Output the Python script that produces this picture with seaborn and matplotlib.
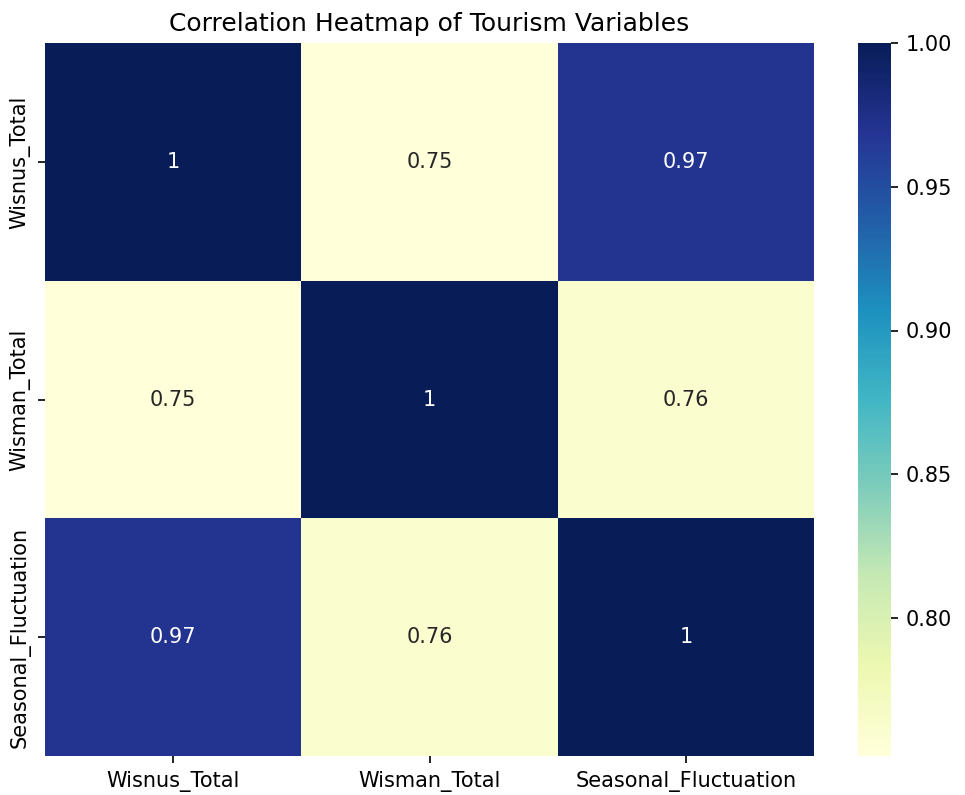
import numpy as np
import pandas as pd
import matplotlib
matplotlib.use("Agg")
import matplotlib.pyplot as plt
import seaborn as sns

# Correlation matrix of the tourism variables
variables = ["Wisnus_Total", "Wisman_Total", "Seasonal_Fluctuation"]
row_wisnus = [1.0, 0.752, 0.97]
row_wisman = [0.752, 1.0, 0.761]
row_seasonal = [0.97, 0.761, 1.0]

corr = pd.DataFrame([row_wisnus, row_wisman, row_seasonal],
                    index=variables, columns=variables)

W, H, DPI = 965, 795, 150
fig = plt.figure(figsize=(W / DPI, H / DPI), dpi=DPI)
ax = fig.add_axes([45 / W, 1 - 756 / H, (814 - 45) / W, (756 - 43) / H])
cax = fig.add_axes([858 / W, 1 - 756 / H, (891 - 858) / W, (756 - 43) / H])

sns.heatmap(corr, annot=True, cmap="YlGnBu", ax=ax, cbar_ax=cax,
            annot_kws={"fontsize": 10})
ax.set_title("Correlation Heatmap of Tourism Variables", fontsize=12)
cax.tick_params(labelsize=10)

fig.savefig("out.png", dpi=DPI)
